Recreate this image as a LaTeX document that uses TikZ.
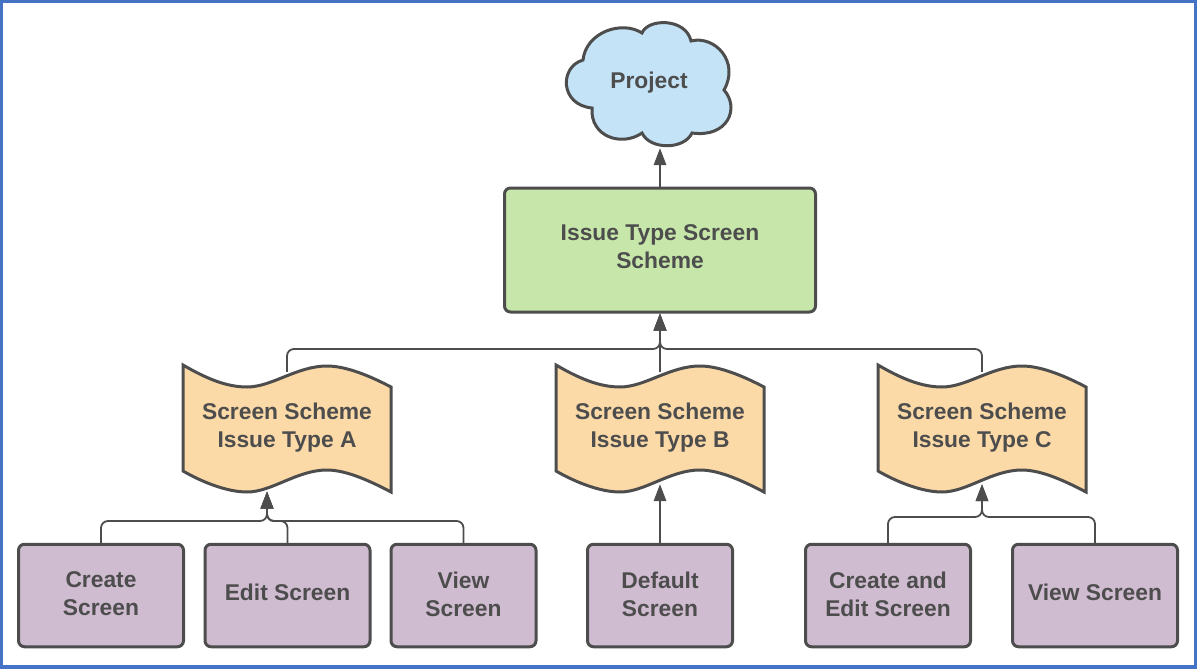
\documentclass[tikz,border=0pt]{standalone}
\usepackage{fontspec}
\setmainfont{Liberation Sans}
\usepackage{xcolor}
\usetikzlibrary{arrows.meta, backgrounds}
\definecolor{linecolor}{RGB}{77,77,77}
\definecolor{framecolor}{RGB}{68,114,196}
\definecolor{cloudcolor}{RGB}{196,227,246}
\definecolor{schemecolor}{RGB}{199,231,170}
\definecolor{flagcolor}{RGB}{252,218,168}
\definecolor{screencolor}{RGB}{208,188,208}

\begin{document}
\begin{tikzpicture}[
    x=1pt, y=-1pt,
    label/.style={font=\fontsize{22.8}{28}\selectfont\bfseries, text=linecolor, align=center, inner sep=0pt},
    screenbox/.style={label, draw=linecolor, line width=3pt, fill=screencolor, rounded corners=6pt, minimum height=102.5pt, text depth=3pt},
    schemebox/.style={label, draw=linecolor, line width=3pt, fill=schemecolor, rounded corners=6pt, minimum width=311pt, minimum height=124pt, text depth=6pt},
    flagbox/.style={label, minimum width=208pt, minimum height=112pt},
    cloudbox/.style={label, minimum width=160pt, minimum height=130pt},
    link/.style={draw=linecolor, line width=1.8pt, rounded corners=7pt},
    linkarrow/.style={link, -{Triangle[length=17pt, width=12.5pt]}},
    flagshape/.pic={
        \path[draw=linecolor, line width=3pt, fill=flagcolor, line join=miter]
            (-104,-63) .. controls (-80,-49) and (-60,-41) .. (-40,-41)
            .. controls (-15,-41) and (10,-62) .. (40,-62)
            .. controls (60,-62) and (85,-51) .. (104,-41)
            -- (104,64)
            .. controls (85,54) and (60,42) .. (40,42)
            .. controls (10,42) and (-15,64) .. (-40,64)
            .. controls (-60,64) and (-85,54) .. (-104,43) -- cycle;
    }
]
    % Frame
    \useasboundingbox (0,0) rectangle (1197,669);
    \draw[framecolor, line width=3.5pt] (1.5,1.5) rectangle (1195.5,667);

    % Cloud
    \path[draw=linecolor, line width=3pt, fill=cloudcolor]
        (583,60) .. controls (586,32) and (622,20) .. (642,33)
        .. controls (648,18) and (686,18) .. (691,41)
        .. controls (715,35) and (740,62) .. (724,90)
        .. controls (740,108) and (728,138) .. (692,133)
        .. controls (684,150) and (650,150) .. (642,133)
        .. controls (622,147) and (590,137) .. (592,108)
        .. controls (560,105) and (559,67) .. (583,60) -- cycle;
    \node[cloudbox] (project) at (649,83) {Project};

    % Scheme
    \node[schemebox] (scheme) at (660,250) {Issue Type Screen\\Scheme};

    % Flags
    \pic at (287,428) {flagshape};
    \pic at (660,428) {flagshape};
    \pic at (982,428) {flagshape};
    \node[flagbox] (schemeA) at (287,428) {Screen Scheme\\Issue Type A};
    \node[flagbox] (schemeB) at (660,428) {Screen Scheme\\Issue Type B};
    \node[flagbox] (schemeC) at (982,428) {Screen Scheme\\Issue Type C};

    % Screens
    \node[screenbox, minimum width=165pt] (createA) at (101,595.5) {Create\\Screen};
    \node[screenbox, minimum width=165pt, text depth=6pt] (editA) at (287.5,595.5) {Edit Screen};
    \node[screenbox, minimum width=145pt] (viewA) at (463.5,595.5) {View\\Screen};
    \node[screenbox, minimum width=145pt] (defaultB) at (660,595.5) {Default\\Screen};
    \node[screenbox, minimum width=165pt] (createC) at (888,595.5) {Create and\\Edit Screen};
    \node[screenbox, minimum width=165pt, text depth=6pt] (viewC) at (1095,595.5) {View Screen};

    % Junctions
    \coordinate (tipA) at (267,491.5);
    \coordinate (jointA) at (267,521);
    \coordinate (jointC) at (982,517);
    \coordinate (jointS) at (660,349);

    % Relations
    \draw[linkarrow] (scheme.north) -- (scheme.north |- project.south);
    \begin{scope}[on background layer]
        \draw[linkarrow] (schemeA.north) |- (jointS) -- (scheme.south);
        \draw[linkarrow] (schemeB.north) -- (scheme.south);
        \draw[linkarrow] (schemeC.north) |- (jointS) -- (scheme.south);
    \end{scope}
    \draw[linkarrow] (createA.north) |- (jointA) -- (tipA);
    \draw[linkarrow] (editA.north) |- (jointA) -- (tipA);
    \draw[linkarrow] (viewA.north) |- (jointA) -- (tipA);
    \draw[linkarrow] (defaultB.north) -- (schemeB.south);
    \draw[linkarrow] (createC.north) |- (jointC) -- (schemeC.south);
    \draw[linkarrow] (viewC.north) |- (jointC) -- (schemeC.south);
\end{tikzpicture}
\end{document}
